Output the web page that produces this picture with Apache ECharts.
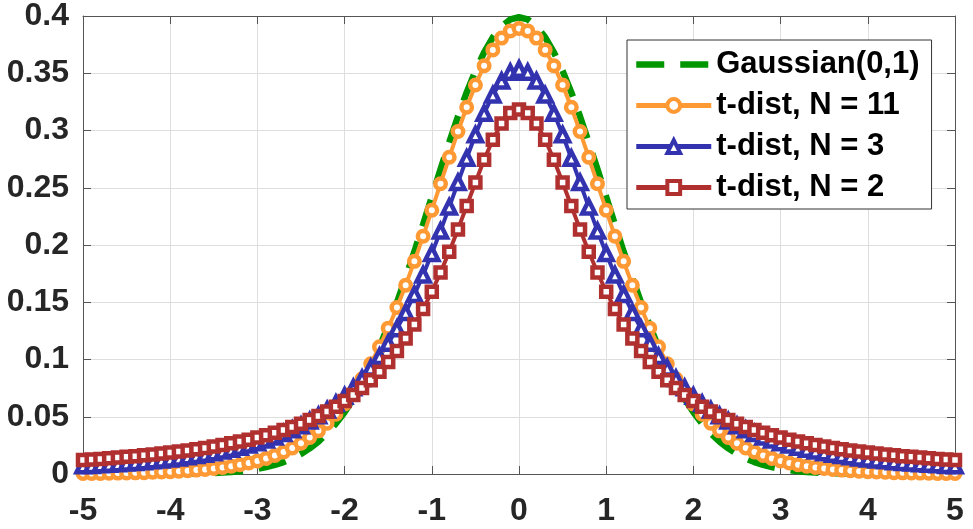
<!DOCTYPE html>
<html>
<head>
<meta charset="utf-8">
<script src="https://cdn.jsdelivr.net/npm/echarts@6/dist/echarts.min.js"></script>
<style>html,body{margin:0;padding:0;background:#fff}#c{width:973px;height:529px}</style>
</head>
<body>
<div id="c"></div>
<script>
var xs = [
-5.0,-4.9,-4.8,-4.7,-4.6,-4.5,-4.4,-4.3,-4.2,-4.1,
-4.0,-3.9,-3.8,-3.7,-3.6,-3.5,-3.4,-3.3,-3.2,-3.1,
-3.0,-2.9,-2.8,-2.7,-2.6,-2.5,-2.4,-2.3,-2.2,-2.1,
-2.0,-1.9,-1.8,-1.7,-1.6,-1.5,-1.4,-1.3,-1.2,-1.1,
-1.0,-0.9,-0.8,-0.7,-0.6,-0.5,-0.4,-0.3,-0.2,-0.1,
0.0,0.1,0.2,0.3,0.4,0.5,0.6,0.7,0.8,0.9,
1.0,1.1,1.2,1.3,1.4,1.5,1.6,1.7,1.8,1.9,
2.0,2.1,2.2,2.3,2.4,2.5,2.6,2.7,2.8,2.9,
3.0,3.1,3.2,3.3,3.4,3.5,3.6,3.7,3.8,3.9,
4.0,4.1,4.2,4.3,4.4,4.5,4.6,4.7,4.8,4.9,
5.0];

var gauss = [
0,0,0,0,0,0,0,0,0.0001,0.0001,
0.0001,0.0002,0.0003,0.0004,0.0006,0.0009,0.0012,0.0017,0.0024,0.0033,
0.0044,0.0060,0.0079,0.0104,0.0136,0.0175,0.0224,0.0283,0.0355,0.0440,
0.0540,0.0656,0.0790,0.0940,0.1109,0.1295,0.1497,0.1714,0.1942,0.2179,
0.2420,0.2661,0.2897,0.3123,0.3332,0.3521,0.3683,0.3814,0.3910,0.3970,
0.3989,0.3970,0.3910,0.3814,0.3683,0.3521,0.3332,0.3123,0.2897,0.2661,
0.2420,0.2179,0.1942,0.1714,0.1497,0.1295,0.1109,0.0940,0.0790,0.0656,
0.0540,0.0440,0.0355,0.0283,0.0224,0.0175,0.0136,0.0104,0.0079,0.0060,
0.0044,0.0033,0.0024,0.0017,0.0012,0.0009,0.0006,0.0004,0.0003,0.0002,
0.0001,0.0001,0.0001,0,0,0,0,0,0,0,
0];

var tN11 = [
0.0004,0.0005,0.0005,0.0006,0.0008,0.0009,0.0010,0.0012,0.0015,0.0017,
0.0020,0.0024,0.0029,0.0034,0.0040,0.0048,0.0057,0.0068,0.0081,0.0096,
0.0114,0.0136,0.0161,0.0192,0.0227,0.0269,0.0319,0.0377,0.0444,0.0522,
0.0611,0.0714,0.0831,0.0963,0.1111,0.1274,0.1454,0.1649,0.1857,0.2076,
0.2304,0.2535,0.2766,0.2991,0.3203,0.3397,0.3566,0.3704,0.3807,0.3870,
0.3891,0.3870,0.3807,0.3704,0.3566,0.3397,0.3203,0.2991,0.2766,0.2535,
0.2304,0.2076,0.1857,0.1649,0.1454,0.1274,0.1111,0.0963,0.0831,0.0714,
0.0611,0.0522,0.0444,0.0377,0.0319,0.0269,0.0227,0.0192,0.0161,0.0136,
0.0114,0.0096,0.0081,0.0068,0.0057,0.0048,0.0040,0.0034,0.0029,0.0024,
0.0020,0.0017,0.0015,0.0012,0.0010,0.0009,0.0008,0.0006,0.0005,0.0005,
0.0004];

var tN3 = [
0.0071,0.0075,0.0080,0.0085,0.0090,0.0095,0.0101,0.0108,0.0115,0.0123,
0.0131,0.0140,0.0150,0.0161,0.0173,0.0186,0.0200,0.0216,0.0234,0.0253,
0.0274,0.0298,0.0324,0.0353,0.0386,0.0422,0.0463,0.0508,0.0559,0.0616,
0.0680,0.0753,0.0834,0.0925,0.1027,0.1141,0.1269,0.1411,0.1567,0.1739,
0.1925,0.2123,0.2331,0.2545,0.2758,0.2963,0.3150,0.3310,0.3432,0.3509,
0.3536,0.3509,0.3432,0.3310,0.3150,0.2963,0.2758,0.2545,0.2331,0.2123,
0.1925,0.1739,0.1567,0.1411,0.1269,0.1141,0.1027,0.0925,0.0834,0.0753,
0.0680,0.0616,0.0559,0.0508,0.0463,0.0422,0.0386,0.0353,0.0324,0.0298,
0.0274,0.0253,0.0234,0.0216,0.0200,0.0186,0.0173,0.0161,0.0150,0.0140,
0.0131,0.0123,0.0115,0.0108,0.0101,0.0095,0.0090,0.0085,0.0080,0.0075,
0.0071];

var tN2 = [
0.0122,0.0127,0.0132,0.0138,0.0144,0.0150,0.0156,0.0163,0.0171,0.0179,
0.0187,0.0196,0.0206,0.0217,0.0228,0.0240,0.0253,0.0268,0.0283,0.0300,
0.0318,0.0338,0.0360,0.0384,0.0410,0.0439,0.0471,0.0506,0.0545,0.0588,
0.0637,0.0690,0.0751,0.0818,0.0894,0.0979,0.1075,0.1183,0.1305,0.1440,
0.1592,0.1759,0.1941,0.2136,0.2341,0.2546,0.2744,0.2920,0.3061,0.3152,
0.3183,0.3152,0.3061,0.2920,0.2744,0.2546,0.2341,0.2136,0.1941,0.1759,
0.1592,0.1440,0.1305,0.1183,0.1075,0.0979,0.0894,0.0818,0.0751,0.0690,
0.0637,0.0588,0.0545,0.0506,0.0471,0.0439,0.0410,0.0384,0.0360,0.0338,
0.0318,0.0300,0.0283,0.0268,0.0253,0.0240,0.0228,0.0217,0.0206,0.0196,
0.0187,0.0179,0.0171,0.0163,0.0156,0.0150,0.0144,0.0138,0.0132,0.0127,
0.0122];

var seriesNames = ['Gaussian(0,1)', 't-dist, N = 11', 't-dist, N = 3', 't-dist, N = 2'];
var xTicks = [-5, -4, -3, -2, -1, 0, 1, 2, 3, 4, 5];
var yTicks = [0, 0.05, 0.1, 0.15, 0.2, 0.25, 0.3, 0.35, 0.4];

function pairs(ys) { return xs.map(function (x, i) { return [x, ys[i]]; }); }

var cGreen = '#009600', cOrange = '#ff9933', cBlue = '#3333b0', cRed = '#b03030';
var axisColor = '#555555', labelColor = '#262626';
var FONT = '"Liberation Sans", Arial, Helvetica, sans-serif';

var chart = echarts.init(document.getElementById('c'), null, {renderer: 'canvas'});

function markerSeries(name, ys, color, symbol, size) {
  return {
    name: name, type: 'line', data: pairs(ys), clip: false,
    symbol: symbol, symbolSize: size, showSymbol: true,
    lineStyle: {color: color, width: 4},
    itemStyle: {color: '#ffffff', borderColor: color, borderWidth: 4.5},
    emphasis: {disabled: true}, z: 3
  };
}

function legendItem(name, color) {
  return {
    name: name,
    lineStyle: {color: color, width: 5},
    itemStyle: {color: '#ffffff', borderColor: color, borderWidth: 4}
  };
}

var option = {
  animation: false,
  backgroundColor: '#ffffff',
  grid: {left: 83, right: 18, top: 15, bottom: 55, containLabel: false},
  xAxis: [{
    type: 'value', min: xTicks[0], max: xTicks[xTicks.length - 1], interval: 1,
    axisLine: {show: true, onZero: false, lineStyle: {color: axisColor, width: 1}},
    axisTick: {show: true, inside: true, length: 8, lineStyle: {color: axisColor}},
    axisLabel: {color: labelColor, fontSize: 32, fontWeight: 'bold', fontFamily: FONT, margin: 21},
    splitLine: {show: true, lineStyle: {color: '#dedede', width: 1}}
  }, {
    type: 'value', position: 'top', min: xTicks[0], max: xTicks[xTicks.length - 1], interval: 1,
    axisLine: {show: true, onZero: false, lineStyle: {color: axisColor, width: 1}},
    axisTick: {show: true, inside: true, length: 8, lineStyle: {color: axisColor}},
    axisLabel: {show: false}, splitLine: {show: false}
  }],
  yAxis: [{
    type: 'value', min: yTicks[0], max: yTicks[yTicks.length - 1], interval: 0.05,
    axisLine: {show: true, onZero: false, lineStyle: {color: axisColor, width: 1}},
    axisTick: {show: true, inside: true, length: 8, lineStyle: {color: axisColor}},
    axisLabel: {color: labelColor, fontSize: 32, fontWeight: 'bold', fontFamily: FONT, margin: 14,
      formatter: function (v) { return String(+v.toFixed(2)); }},
    splitLine: {show: true, lineStyle: {color: '#dedede', width: 1}}
  }, {
    type: 'value', position: 'right', min: yTicks[0], max: yTicks[yTicks.length - 1], interval: 0.05,
    axisLine: {show: true, onZero: false, lineStyle: {color: axisColor, width: 1}},
    axisTick: {show: true, inside: true, length: 8, lineStyle: {color: axisColor}},
    axisLabel: {show: false}, splitLine: {show: false}
  }],
  legend: {
    orient: 'vertical', left: 627, top: 40,
    padding: [9, 12, 6, 6], itemGap: 10, itemWidth: 75, itemHeight: 16,
    backgroundColor: '#ffffff', borderColor: '#333333', borderWidth: 1,
    textStyle: {color: '#000000', fontSize: 31, fontWeight: 'bold', fontFamily: FONT, lineHeight: 28},
    data: [
      {name: seriesNames[0], itemStyle: {opacity: 0},
       lineStyle: {color: cGreen, width: 6.5, type: [28, 16]}},
      legendItem(seriesNames[1], cOrange),
      legendItem(seriesNames[2], cBlue),
      legendItem(seriesNames[3], cRed)
    ]
  },
  series: [
    {
      name: seriesNames[0], type: 'line', data: pairs(gauss), clip: false,
      symbol: 'none', showSymbol: false,
      lineStyle: {color: cGreen, width: 6.5, type: [28, 16]},
      itemStyle: {color: cGreen},
      emphasis: {disabled: true}, z: 2
    },
    markerSeries(seriesNames[1], tN11, cOrange, 'circle', 10.5),
    markerSeries(seriesNames[2], tN3, cBlue, 'triangle', 13),
    markerSeries(seriesNames[3], tN2, cRed, 'rect', 10)
  ]
};
chart.setOption(option);
</script>
</body>
</html>
